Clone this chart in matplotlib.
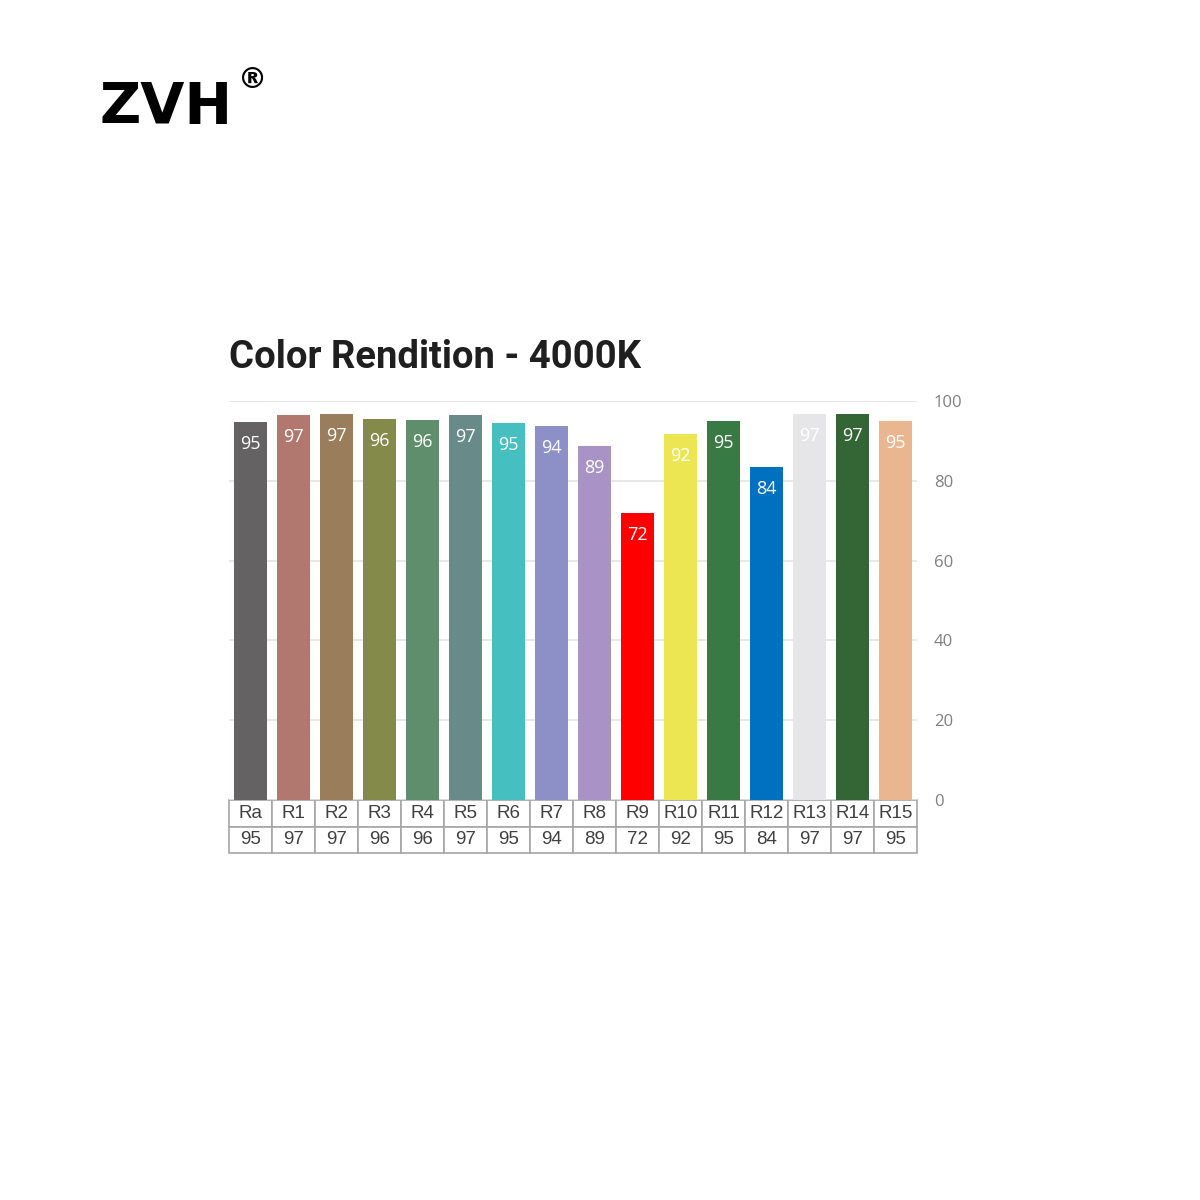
import matplotlib
matplotlib.use("Agg")
import matplotlib.pyplot as plt

categories = ["Ra", "R1", "R2", "R3", "R4", "R5", "R6", "R7", "R8", "R9",
              "R10", "R11", "R12", "R13", "R14", "R15"]
bar_values = [94.8, 96.6, 96.8, 95.6, 95.3, 96.6, 94.5, 93.8, 88.8, 72.0,
              91.8, 95.0, 83.5, 96.8, 96.8, 95.0]
display_values = [95, 97, 97, 96, 96, 97, 95, 94, 89, 72, 92, 95, 84, 97, 97, 95]
colors = ["#646262", "#B0786E", "#9A7D5A", "#838A4A", "#5F8E6C", "#688A89",
          "#45BFBF", "#8C90C6", "#A993C6", "#FF0000", "#ECE653", "#387A44",
          "#0070C0", "#E6E6E8", "#336535", "#EAB68F"]
yticks = [0, 20, 40, 60, 80, 100]
title = "Color Rendition - 4000K"
brand = "ZVH"

fig = plt.figure(figsize=(12, 12), dpi=100)
fig.patch.set_facecolor("white")

# Brand logo
fig.text(99 / 1200, 1 - 124 / 1200, brand, fontsize=41, fontweight="heavy",
         family=["DejaVu Sans"], color="black", ha="left", va="baseline")
fig.text(238 / 1200, 1 - 88 / 1200, "\u00ae", fontsize=21, fontweight="bold",
         family=["DejaVu Sans"], color="black", ha="left", va="baseline")

# Title
fig.text(229 / 1200, 1 - 368 / 1200, title, fontsize=27.5, fontweight="bold",
         family=["Roboto", "DejaVu Sans"], color="#1f1f1f", ha="left", va="baseline")

ax = fig.add_axes([229 / 1200, 1 - 800 / 1200, 688 / 1200, 399 / 1200])
x = list(range(len(categories)))
ax.set_axisbelow(True)
ax.yaxis.grid(True, color="#e4e4e4", linewidth=1.2)
bars = ax.bar(x, bar_values, width=0.79, color=colors, zorder=2)
for xi, v, d in zip(x, bar_values, display_values):
    ax.text(xi, v - 5.6, str(d), ha="center", va="center", color="white",
            fontsize=13, family=["Open Sans", "DejaVu Sans"], zorder=3)

ax.set_xlim(-0.5, len(categories) - 0.5)
ax.set_ylim(0, 100)
ax.set_yticks(yticks)
ax.yaxis.tick_right()
ax.tick_params(axis="y", length=0, pad=12, labelsize=12, labelcolor="#7f7f7f")
for lbl in ax.get_yticklabels():
    lbl.set_family(["Open Sans", "DejaVu Sans"])
ax.set_xticks([])
for s in ax.spines.values():
    s.set_visible(False)

tbl = ax.table(cellText=[categories, [str(d) for d in display_values]],
               cellLoc="center", bbox=[0, -53 / 399, 1, 53 / 399])
tbl.auto_set_font_size(False)
for (r, c), cell in tbl.get_celld().items():
    cell.set_edgecolor("#a6a6a6")
    cell.set_linewidth(1.2)
    cell.set_facecolor("white")
    cell.get_text().set_fontsize(13.5)
    cell.get_text().set_color("#404040")
    cell.get_text().set_family(["Liberation Sans", "DejaVu Sans"])

fig.savefig("out.png", dpi=100, facecolor="white")
